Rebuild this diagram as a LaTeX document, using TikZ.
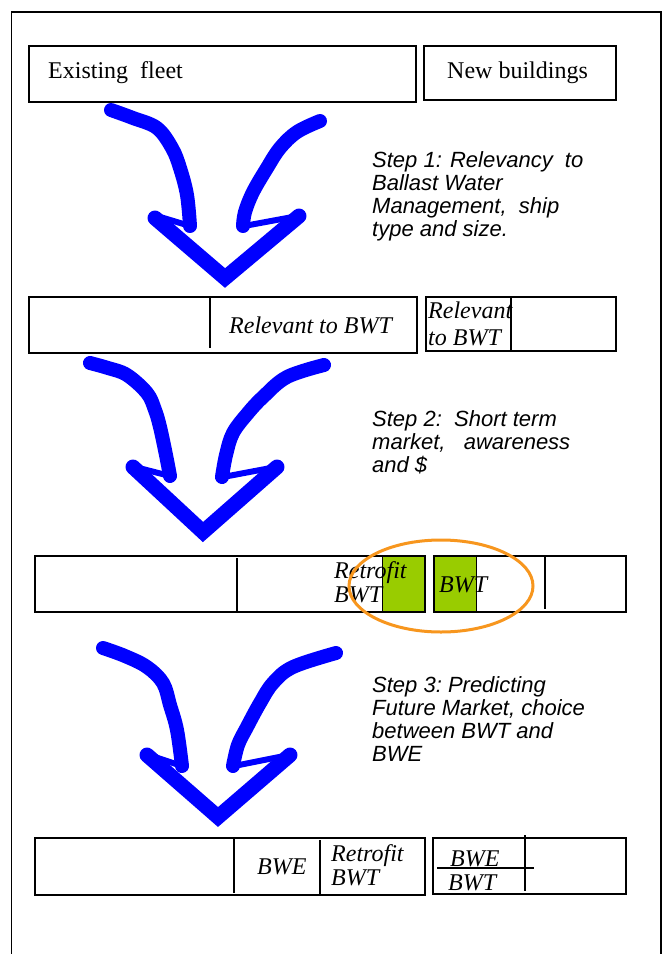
\documentclass[tikz,border=0pt]{standalone}
\usepackage{fontspec}
\setmainfont{Liberation Serif}
\newfontfamily\arialf{Liberation Sans}
\definecolor{penblue}{RGB}{0,0,255}
\definecolor{marker}{RGB}{247,150,30}
\definecolor{lime}{RGB}{153,204,0}
\begin{document}
\begin{tikzpicture}[x=1pt,y=-1pt,
  box/.style={draw=black,line width=1.5pt,anchor=north west,inner sep=0pt},
  divider/.style={draw=black,line width=1.3pt},
  serif/.style={anchor=base west,inner sep=0pt,font=\fontsize{24}{26}\selectfont},
  serifit/.style={anchor=base west,inner sep=0pt,font=\itshape\fontsize{24}{26}\selectfont},
  steptext/.style={anchor=base west,inner sep=0pt,font=\arialf\itshape\fontsize{22}{23}\selectfont},
  stroke/.style={draw=penblue,line width=14pt,line cap=round,line join=round},
  arm/.style={draw=penblue,line width=15pt,line cap=round,line join=miter},
  back/.style={draw=penblue,line width=6pt,line cap=round}]
\useasboundingbox (0,0) rectangle (664,954);
% outer frame (open at the bottom)
\draw[line width=1.5pt] (11.5,960) -- (11.5,12) -- (661,12) -- (661,960);

% ---------- row 1
\node[box,minimum width=387pt,minimum height=56pt] (r1a) at (28,45) {};
\node[box,minimum width=192pt,minimum height=54pt] (r1b) at (423,45) {};
\node[serif] (t1a) at (48,78) {Existing\ \ fleet};
\node[serif] (t1b) at (447,78) {New buildings};

% ---------- arrow 1
\draw[stroke] plot[smooth,tension=0.6] coordinates {(111,110) (133,118) (157,128) (172,148) (180,168) (187,195) (190,226)};
\draw[back] (190,226) -- (157,216);
\draw[arm] (155,218) -- (225,278) -- (299,216);
\draw[back] (298,216) -- (244,226);
\draw[stroke] plot[smooth,tension=0.6] coordinates {(243,226) (245,212) (253,192) (267,168) (280,148) (297,132) (320,121)};

\node[steptext] (s1a) at (372,167) {Step 1: Relevancy\ \ to};
\node[steptext] (s1b) at (372,190) {Ballast Water};
\node[steptext] (s1c) at (372,213) {Management,\ \ ship};
\node[steptext] (s1d) at (372,236) {type and size.};

% ---------- row 2
\node[box,minimum width=388pt,minimum height=56pt] (r2a) at (28,296) {};
\node[box,minimum width=190pt,minimum height=54pt] (r2b) at (425,296) {};
\draw[divider] (210,297) -- (210,348);
\draw[divider] (511,296) -- (511,350);
\node[serifit] (t2a) at (229,333) {Relevant to BWT};
\node[serifit] (t2b) at (428,318) {Relevant};
\node[serifit] (t2c) at (428,345) {to BWT};

% ---------- arrow 2
\draw[stroke] plot[smooth,tension=0.6] coordinates {(90,363) (108,368) (127,375) (147,393) (155,410) (160,427) (166,455) (170,476)};
\draw[back] (170,476) -- (135,467);
\draw[arm] (133,467) -- (203,532) -- (277,467);
\draw[back] (276,467) -- (223,477);
\draw[stroke] plot[smooth,tension=0.6] coordinates {(222,477) (226,455) (233,433) (248,413) (263,397) (287,377) (324,365)};

\node[steptext] (s2a) at (372,426) {Step 2:\ \ Short term};
\node[steptext] (s2b) at (372,449) {market,\ \ \ awareness};
\node[steptext] (s2c) at (372,472) {and \$};

% ---------- row 3
\fill[lime,draw=black,line width=0.6pt] (382,555) rectangle (424,611);
\fill[lime,draw=black,line width=0.6pt] (433,555) rectangle (476,611);
\node[box,minimum width=390pt,minimum height=56pt] (r3a) at (34,555) {};
\node[box,minimum width=192pt,minimum height=56pt] (r3b) at (433,555) {};
\draw[divider] (237,558) -- (237,611);
\draw[divider] (545,555) -- (545,609);
\node[serifit] (t3a) at (334,578) {Retrofit};
\node[serifit] (t3b) at (334,602) {BWT};
\node[serifit] (t3c) at (439,592) {BWT};

% ---------- arrow 3
\draw[stroke] plot[smooth,tension=0.6] coordinates {(103,648) (125,656) (147,667) (163,683) (170,705) (177,730) (182,766)};
\draw[back] (182,766) -- (149,755);
\draw[arm] (147,755) -- (218,817) -- (290,755);
\draw[back] (289,755) -- (234,766);
\draw[stroke] plot[smooth,tension=0.6] coordinates {(233,766) (238,745) (247,727) (260,703) (273,683) (293,667) (336,653)};

\node[steptext] (s3a) at (372,692) {Step 3:\ Predicting};
\node[steptext] (s3b) at (372,715) {Future Market,\ choice};
\node[steptext] (s3c) at (372,738) {between BWT and};
\node[steptext] (s3d) at (372,761) {BWE};

% ---------- row 4
\node[box,minimum width=390pt,minimum height=57pt] (r4a) at (34,837) {};
\node[box,minimum width=193pt,minimum height=56pt] (r4b) at (432,837) {};
\draw[divider] (234,838) -- (234,893);
\draw[divider] (320,840) -- (320,894);
\draw[divider] (525,835) -- (525,891);
\draw[divider] (437,868) -- (534,868);
\node[serifit] (t4a) at (257,874) {BWE};
\node[serifit] (t4b) at (331,861) {Retrofit};
\node[serifit] (t4c) at (331,885) {BWT};
\node[serifit] (t4d) at (450,866) {BWE};
\node[serifit] (t4e) at (448,890) {BWT};

% ---------- orange highlight
\draw[marker,line width=3pt] (441,586) ellipse [x radius=92pt,y radius=46pt];
\end{tikzpicture}
\end{document}
